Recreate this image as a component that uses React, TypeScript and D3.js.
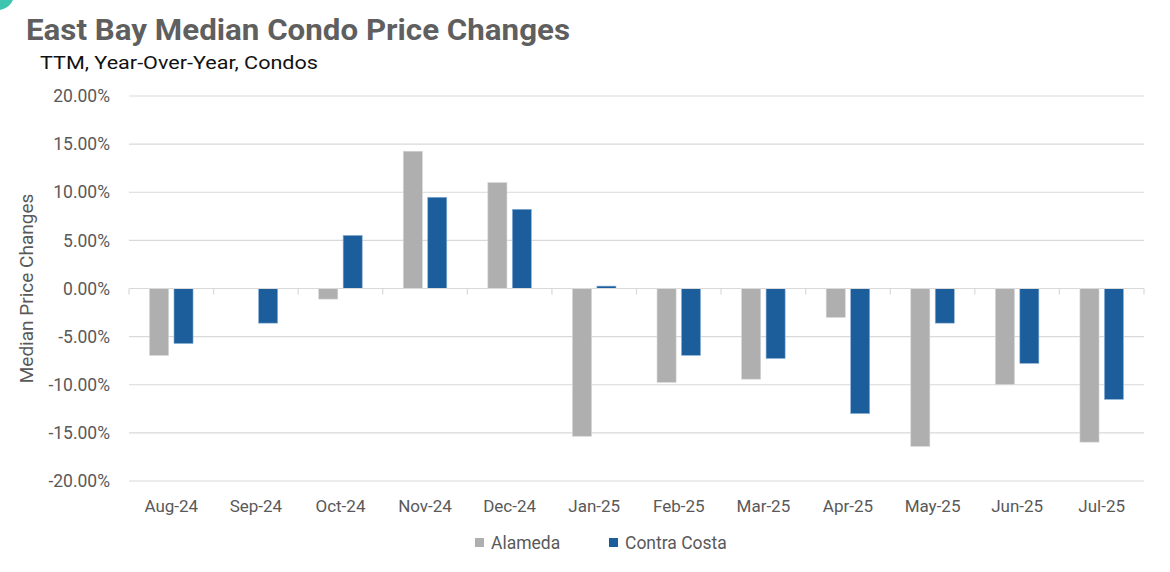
import * as d3 from "d3";
import { useEffect, useRef } from "react";

// data
const months = [
  "Aug-24", "Sep-24", "Oct-24", "Nov-24", "Dec-24", "Jan-25",
  "Feb-25", "Mar-25", "Apr-25", "May-25", "Jun-25", "Jul-25",
];
const alameda: (number | null)[] = [
  -6.95, null, -1.1, 14.26, 11.0, -15.35, -9.75, -9.42, -3.0, -16.4, -9.96, -15.96,
];
const contraCosta: (number | null)[] = [
  -5.72, -3.6, 5.52, 9.48, 8.23, 0.25, -6.95, -7.27, -13.0, -3.6, -7.78, -11.52,
];
const seriesNames = ["Alameda", "Contra Costa"];
const seriesColors = ["#afafaf", "#1c5e9b"];
const yTicks = [20, 15, 10, 5, 0, -5, -10, -15, -20];

const W = 1170;
const H = 572;
const FONT = "Roboto, 'Open Sans', sans-serif";

export default function App() {
  const ref = useRef<SVGSVGElement>(null);

  useEffect(() => {
    const svg = d3.select(ref.current);
    svg.selectAll("*").remove();

    const margin = { top: 96, right: 26, bottom: 91, left: 129 };
    const width = W - margin.left - margin.right;
    const height = H - margin.top - margin.bottom;

    // corner decoration
    svg.append("circle")
      .attr("cx", -2).attr("cy", -6).attr("r", 16)
      .attr("fill", "#3dc5ad");

    // titles
    svg.append("text")
      .attr("x", 26).attr("y", 40)
      .attr("font-family", FONT)
      .attr("font-weight", 700)
      .attr("font-size", 30)
      .attr("fill", "#5f5f5f")
      .attr("textLength", 544)
      .attr("lengthAdjust", "spacingAndGlyphs")
      .text("East Bay Median Condo Price Changes");
    svg.append("text")
      .attr("x", 40).attr("y", 69)
      .attr("font-family", FONT)
      .attr("font-size", 19)
      .attr("fill", "#111")
      .attr("textLength", 278)
      .attr("lengthAdjust", "spacingAndGlyphs")
      .text("TTM, Year-Over-Year, Condos");

    const x0 = d3.scaleBand<string>().domain(months).range([0, width]).padding(0);
    const x1 = d3.scaleBand<string>()
      .domain(seriesNames)
      .range([0, x0.step()])
      .paddingInner(0.22)
      .paddingOuter(0.84);
    const y = d3.scaleLinear().domain([-20, 20]).range([height, 0]);

    const g = svg.append("g").attr("transform", `translate(${margin.left},${margin.top})`);

    // gridlines
    g.append("g")
      .selectAll("line")
      .data(yTicks)
      .enter()
      .append("line")
      .attr("x1", 0).attr("x2", width)
      .attr("y1", (d) => y(d)).attr("y2", (d) => y(d))
      .attr("stroke", "#d9d9d9")
      .attr("stroke-width", 1.2);

    // y tick labels
    g.append("g")
      .selectAll("text")
      .data(yTicks)
      .enter()
      .append("text")
      .attr("x", -19)
      .attr("y", (d) => y(d))
      .attr("dy", "0.35em")
      .attr("text-anchor", "end")
      .attr("font-family", FONT)
      .attr("font-size", 17.5)
      .attr("fill", "#595959")
      .text((d) => d.toFixed(2) + "%");

    // y axis title
    svg.append("text")
      .attr("transform", `translate(33,${margin.top + y(0)}) rotate(-90)`)
      .attr("text-anchor", "middle")
      .attr("font-family", FONT)
      .attr("font-size", 19)
      .attr("fill", "#595959")
      .text("Median Price Changes");

    // bars
    const allSeries = [alameda, contraCosta];
    allSeries.forEach((vals, si) => {
      g.append("g")
        .selectAll("rect")
        .data(vals.map((v, i) => ({ v, m: months[i] })).filter((d) => d.v !== null))
        .enter()
        .append("rect")
        .attr("x", (d) => (x0(d.m) as number) + (x1(seriesNames[si]) as number))
        .attr("width", x1.bandwidth())
        .attr("y", (d) => y(Math.max(0, d.v as number)))
        .attr("height", (d) => Math.abs(y(d.v as number) - y(0)))
        .attr("fill", seriesColors[si])
        .attr("stroke", si === 0 ? "#d4d4d4" : "#8fb4d8")
        .attr("stroke-width", 0.6);
    });

    // zero axis with ticks
    g.append("line")
      .attr("x1", 0).attr("x2", width)
      .attr("y1", y(0)).attr("y2", y(0))
      .attr("stroke", "#d9d9d9")
      .attr("stroke-width", 1.2);
    g.append("g")
      .selectAll("line")
      .data([...months.map((m) => x0(m) as number), width])
      .enter()
      .append("line")
      .attr("x1", (d) => d).attr("x2", (d) => d)
      .attr("y1", y(0)).attr("y2", y(0) + 6)
      .attr("stroke", "#d9d9d9")
      .attr("stroke-width", 1.2);

    // x labels
    g.append("g")
      .selectAll("text")
      .data(months)
      .enter()
      .append("text")
      .attr("x", (d) => (x0(d) as number) + x0.bandwidth() / 2)
      .attr("y", height + 25)
      .attr("dy", "0.35em")
      .attr("text-anchor", "middle")
      .attr("font-family", FONT)
      .attr("font-size", 17)
      .attr("fill", "#595959")
      .text((d) => d);

    // legend
    const legendX = [475, 609];
    seriesNames.forEach((name, i) => {
      svg.append("rect")
        .attr("x", legendX[i]).attr("y", 538)
        .attr("width", 9).attr("height", 9)
        .attr("fill", seriesColors[i]);
      svg.append("text")
        .attr("x", legendX[i] + 16).attr("y", 543)
        .attr("dy", "0.35em")
        .attr("font-family", FONT)
        .attr("font-size", 17.5)
        .attr("fill", "#595959")
        .text(name);
    });
  }, []);

  return (
    <svg
      ref={ref}
      width={W}
      height={H}
      style={{ position: "absolute", left: 0, top: 0, background: "#fff" }}
    />
  );
}
